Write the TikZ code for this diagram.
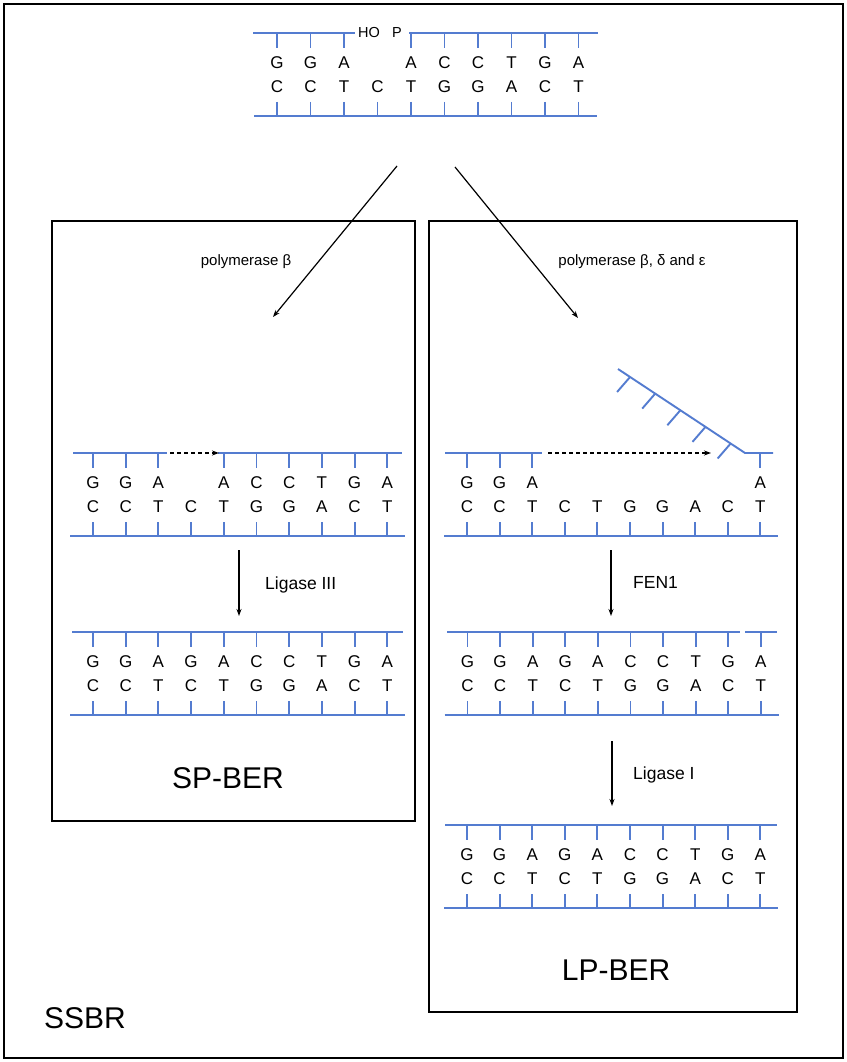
\documentclass[tikz,border=0pt]{standalone}
\usepackage{fontspec}
\setmainfont{Liberation Sans}
\usetikzlibrary{arrows.meta,calc}
\definecolor{dnablue}{RGB}{84,124,208}
\newcommand\dnaBottom[4]{%
  \foreach \b [count=\i from 0] in {C,C,T,C,T,G,G,A,C,T}{%
    \node[base] (#1-b\i) at ({#2+\i*#3},{#4+54}) {\b};
    \draw[strand] ({#2+\i*#3},{#4+69}) -- ({#2+\i*#3},{#4+83});
  }%
  \draw[strand] ({#2-23},{#4+83}) -- ({#2+9*#3+18},{#4+83});
}
\newcommand\dnaRow[5]{%
  \foreach \b/\i in {#5}{\node[base] (#1-t\i) at ({#2+\i*#3},{#4+30}) {\b};}%
}
\newcommand\dnaTicks[4]{%
  \foreach \i in {#4}{\draw[strand] ({#1+\i*#2},{#3}) -- ({#1+\i*#2},{#3+15});}%
}
\begin{document}
\begin{tikzpicture}[x=1pt,y=-1pt,
  strand/.style={draw=dnablue,line width=1.9pt},
  base/.style={inner sep=0pt,font=\fontsize{17}{19}\selectfont},
  boxline/.style={draw=black,line width=2pt},
  flow/.style={draw=black,line width=1.2pt,-{Stealth[length=7pt,width=5pt]}},
  ext/.style={draw=black,line width=1.4pt,dashed,dash pattern=on 4pt off 3pt,-{Stealth[length=7pt,width=5pt]}},
  lbl/.style={inner sep=0pt,font=\fontsize{17.5}{20}\selectfont,anchor=west},
  smalllbl/.style={inner sep=0pt,font=\fontsize{15}{17}\selectfont},
  title/.style={inner sep=0pt,font=\fontsize{30}{34}\selectfont}]
\useasboundingbox (0,0) rectangle (846,1062);
\fill[white] (0,0) rectangle (846,1062);
% boxes
\draw[boxline] (4,4) rectangle (843,1058);
\draw[boxline] (52,221) rectangle (415,821);
\draw[boxline] (429,221) rectangle (797,1012);

% ---- top DNA
\draw[strand] (253,33) -- (355,33);
\draw[strand] (409,33) -- (598,33);
\dnaTicks{277}{33.5}{33}{0,1,2,4,5,6,7,8,9}
\dnaRow{top}{277}{33.5}{33}{G/0,G/1,A/2,A/4,C/5,C/6,T/7,G/8,A/9}
\dnaBottom{top}{277}{33.5}{33}
\node[inner sep=0pt,font=\fontsize{14.5}{16}\selectfont] (ho) at (369,33) {HO};
\node[inner sep=0pt,font=\fontsize{14.5}{16}\selectfont] (p) at (397,33) {P};

% ---- left middle
\draw[strand] (73,453) -- (167,453);
\draw[strand] (218,453) -- (402,453);
\dnaTicks{93}{32.7}{453}{0,1,2,4,5,6,7,8,9}
\dnaRow{lm}{93}{32.7}{453}{G/0,G/1,A/2,A/4,C/5,C/6,T/7,G/8,A/9}
\dnaBottom{lm}{93}{32.7}{453}
\coordinate (lmgap1) at (170,453);
\coordinate (lmgap2) at (219,453);
\draw[ext] (lmgap1) -- (lmgap2);

% ---- left bottom
\draw[strand] (72,632) -- (403,632);
\dnaTicks{93}{32.7}{632}{0,...,9}
\dnaRow{lb}{93}{32.7}{632}{G/0,G/1,A/2,G/3,A/4,C/5,C/6,T/7,G/8,A/9}
\dnaBottom{lb}{93}{32.7}{632}

% ---- right middle
\draw[strand] (445,453) -- (542,453);
\dnaTicks{467}{32.6}{453}{0,1,2,9}
\dnaRow{rm}{467}{32.6}{453}{G/0,G/1,A/2,A/9}
\dnaBottom{rm}{467}{32.6}{453}
\coordinate (f1) at (618,369);
\coordinate (f2) at (745,453);
\draw[strand] (f1) -- (f2) -- (773,453);
\foreach \t in {0.095,0.293,0.491,0.689,0.887}{
  \draw[strand] ($(f1)!\t!(f2)$) -- ++(-13,15);
}
\coordinate (rmgap1) at (548,453);
\coordinate (rmgap2) at (711,453);
\draw[ext] (rmgap1) -- (rmgap2);

% ---- right FEN1 product
\draw[strand] (447,632) -- (740,632);
\draw[strand] (745,632) -- (777,632);
\dnaTicks{467.5}{32.6}{632}{0,...,9}
\dnaRow{rf}{467.5}{32.6}{632}{G/0,G/1,A/2,G/3,A/4,C/5,C/6,T/7,G/8,A/9}
\dnaBottom{rf}{467.5}{32.6}{632}

% ---- right bottom
\draw[strand] (445,825) -- (777,825);
\dnaTicks{467}{32.6}{825}{0,...,9}
\dnaRow{rb}{467}{32.6}{825}{G/0,G/1,A/2,G/3,A/4,C/5,C/6,T/7,G/8,A/9}
\dnaBottom{rb}{467}{32.6}{825}

% ---- arrows
\coordinate (srcL) at (397,166);
\coordinate (dstL) at (273,317);
\coordinate (srcR) at (455,167);
\coordinate (dstR) at (578,318);
\draw[flow] (srcL) -- (dstL);
\draw[flow] (srcR) -- (dstR);
\node[smalllbl] (polL) at (246,262) {polymerase β};
\node[smalllbl] (polR) at (632,262) {polymerase β, δ and ε};

\coordinate (lig3a) at (239,550);
\coordinate (lig3b) at (239,616);
\draw[flow] (lig3a) -- (lig3b);
\node[lbl] (lig3) at (265,585) {Ligase III};

\coordinate (fena) at (611,550);
\coordinate (fenb) at (611,616);
\draw[flow] (fena) -- (fenb);
\node[lbl] (fen) at (633,582) {FEN1};

\coordinate (lig1a) at (612,741);
\coordinate (lig1b) at (612,806);
\draw[flow] (lig1a) -- (lig1b);
\node[lbl] (lig1) at (633,775) {Ligase I};

\node[title] (sp) at (228,778) {SP-BER};
\node[title] (lp) at (616,970) {LP-BER};
\node[title] (ssbr) at (85,1018) {SSBR};
\end{tikzpicture}
\end{document}
